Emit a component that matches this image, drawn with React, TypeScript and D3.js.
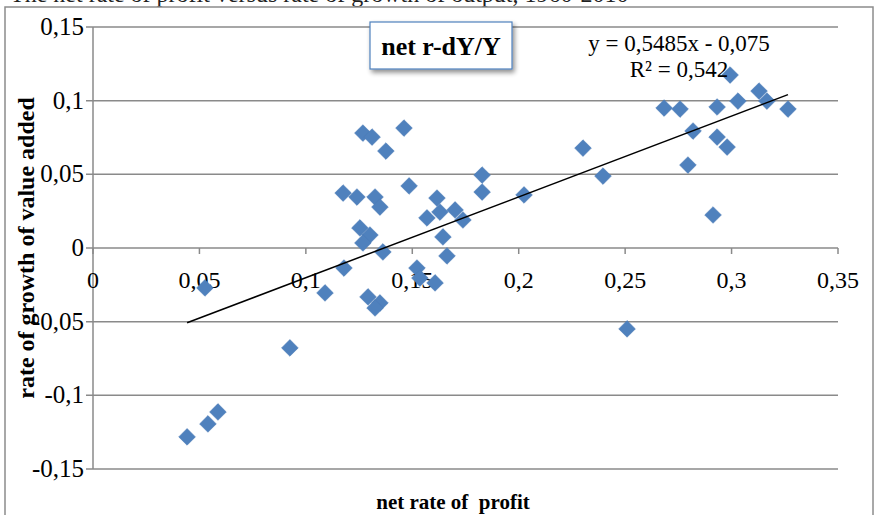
import React from "react";
import * as d3 from "d3";

const profitRate = [
  0.0442, 0.054, 0.0587, 0.0526, 0.0925, 0.109, 0.1175, 0.1179, 0.124, 0.1268,
  0.1311, 0.1376, 0.1461, 0.1325, 0.1348, 0.1485, 0.1254, 0.1301, 0.1268, 0.1362,
  0.1292, 0.1348, 0.1325, 0.1522, 0.1536, 0.1569, 0.1616, 0.163, 0.1701, 0.1738,
  0.1644, 0.1663, 0.1607, 0.1828, 0.1828, 0.2025, 0.2302, 0.2396, 0.2509, 0.2683,
  0.2758, 0.2932, 0.303, 0.2993, 0.3129, 0.3166, 0.3265, 0.2819, 0.2932, 0.2979,
  0.2795, 0.2913,
];
const growthRate = [
  -0.1282, -0.1194, -0.1113, -0.0271, -0.0678, -0.0305, 0.0373, -0.0136, 0.0346, 0.078,
  0.0753, 0.0658, 0.0814, 0.0346, 0.0278, 0.0421, 0.0136, 0.0088, 0.0034, -0.0027,
  -0.0332, -0.0373, -0.0407, -0.0136, -0.0204, 0.0204, 0.0339, 0.0244, 0.0258, 0.019,
  0.0075, -0.0054, -0.0237, 0.0495, 0.038, 0.036, 0.0678, 0.0488, -0.0549, 0.095,
  0.0943, 0.0957, 0.0997, 0.1174, 0.1065, 0.0997, 0.0943, 0.0794, 0.0753, 0.0685,
  0.0563, 0.0224,
];
const xTicks = [0, 0.05, 0.1, 0.15, 0.2, 0.25, 0.3, 0.35];
const yTicks = [0.15, 0.1, 0.05, 0, -0.05, -0.1, -0.15];
const trendSlope = 0.5485;
const trendIntercept = -0.075;
const seriesName = "net r-dY/Y";
const equationText = "y = 0,5485x - 0,075";
const r2Text = "R² = 0,542";
const xTitle = "net rate of  profit";
const yTitle = "rate of growth of value added";
const topTitle = "The net rate of profit versus rate of growth of output, 1960-2010";

const fmt = (v: number) => (v === 0 ? "0" : String(+v.toFixed(2)).replace(".", ","));

export default function App() {
  const W = 876, H = 515;
  const x = d3.scaleLinear().domain([0, 0.35]).range([93, 838]);
  const y = d3.scaleLinear().domain([-0.15, 0.15]).range([469, 27]);
  const diamond = d3.symbol().type(d3.symbolSquare).size(140)();
  const xMin = d3.min(profitRate) as number;
  const xMax = d3.max(profitRate) as number;
  const serif = "Liberation Serif, Times New Roman, serif";
  const grid = "#8a8a8a";
  return (
    <svg width={W} height={H} style={{ position: "absolute", left: 0, top: 0, background: "#fff" }}>
      <defs>
        <filter id="shadow" x="-20%" y="-20%" width="150%" height="160%">
          <feGaussianBlur in="SourceAlpha" stdDeviation="2.5" />
          <feOffset dx="2" dy="3" result="b" />
          <feComponentTransfer><feFuncA type="linear" slope="0.45" /></feComponentTransfer>
          <feMerge><feMergeNode /><feMergeNode in="SourceGraphic" /></feMerge>
        </filter>
      </defs>
      <text x={10} y={2} fontFamily={serif} fontSize={24} fill="#222">{topTitle}</text>
      <rect x={5} y={7} width={868} height={520} fill="#fff" stroke="#8c8c8c" strokeWidth={1.5} />
      {yTicks.map((t) => (
        <g key={"y" + t}>
          <line x1={86} x2={x(0.35)} y1={y(t)} y2={y(t)} stroke={grid} strokeWidth={1.5} />
          <text x={84} y={y(t) + 8} textAnchor="end" fontFamily={serif} fontSize={25} fill="#000">{fmt(t)}</text>
        </g>
      ))}
      <line x1={x(0)} x2={x(0)} y1={y(0.15)} y2={y(-0.15)} stroke={grid} strokeWidth={1.5} />
      {xTicks.map((t) => (
        <g key={"x" + t}>
          <line x1={x(t)} x2={x(t)} y1={y(0)} y2={y(0) + 6} stroke={grid} strokeWidth={1.5} />
          <text x={x(t)} y={y(0) + 40} textAnchor="middle" fontFamily={serif} fontSize={24} fill="#000">{fmt(t)}</text>
        </g>
      ))}
      {profitRate.map((px, i) => (
        <path key={i} d={diamond} transform={`translate(${x(px)},${y(growthRate[i])}) rotate(45)`} fill="#4F81BD" stroke="#4a7ab5" strokeWidth={0.5} />
      ))}
      <line
        x1={x(xMin)} y1={y(trendSlope * xMin + trendIntercept)}
        x2={x(xMax)} y2={y(trendSlope * xMax + trendIntercept)}
        stroke="#000" strokeWidth={1.5}
      />
      <g filter="url(#shadow)">
        <rect x={370} y={22} width={142} height={47} fill="#fff" stroke="#4F81BD" strokeWidth={1.2} />
      </g>
      <text x={441} y={55} textAnchor="middle" fontFamily={serif} fontWeight="bold" fontSize={26} fill="#000">{seriesName}</text>
      <text x={679} y={51} textAnchor="middle" fontFamily={serif} fontSize={23} fill="#000">{equationText}</text>
      <text x={679} y={77} textAnchor="middle" fontFamily={serif} fontSize={23} fill="#000">{r2Text}</text>
      <text x={453} y={509} textAnchor="middle" fontFamily={serif} fontWeight="bold" fontSize={21} fill="#000" style={{ whiteSpace: "pre" }}>{xTitle}</text>
      <text transform={`translate(34,248) rotate(-90)`} textAnchor="middle" fontFamily={serif} fontWeight="bold" fontSize={24} fill="#000">{yTitle}</text>
    </svg>
  );
}
